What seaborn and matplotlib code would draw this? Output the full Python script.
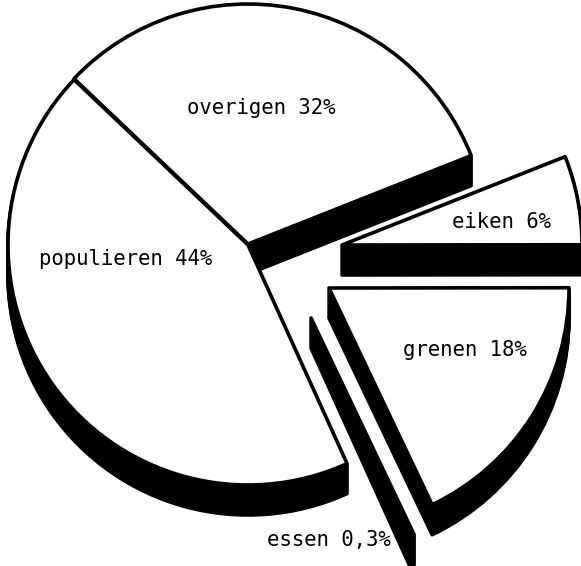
#!/usr/bin/env python3
import seaborn as sns
import matplotlib
matplotlib.use("Agg")
import matplotlib.pyplot as plt

sns.set_style("white")

# counter-clockwise from the right end of "overigen"
names = ["overigen", "populieren", "essen", "grenen", "eiken"]
shares = [32, 44, 0.3, 18, 6]
labels = ["overigen 32%", "populieren 44%", "essen 0,3%", "grenen 18%", "eiken 6%"]

W, H = 581, 566
START = 21.6
RADIUS = 240
DEPTH = 30

# apex of each slice in image pixels, y measured from the top
apex = {"overigen": (248, 244), "populieren": (248, 245), "essen": (311, 318),
        "grenen": (329, 288), "eiken": (342, 245)}
label_pos = {"overigen": (261, 108), "populieren": (126, 259), "essen": (329, 540),
             "grenen": (465, 350), "eiken": (502, 222)}


def slice_at(ax, name, frac, angle, dy, face):
    x, y = apex[name]
    ax.pie([frac], startangle=angle, center=(x, H - y - dy), radius=RADIUS, normalize=False,
           colors=[face], wedgeprops=dict(edgecolor="black", linewidth=2.6, joinstyle="round"))


fig = plt.figure(figsize=(W / 100, H / 100), dpi=100)
ax = fig.add_axes([0, 0, 1, 1])

total = sum(shares)
angle = START
angles = {}
fracs = {}
for name, share in zip(names, shares):
    angles[name] = angle
    fracs[name] = share / total
    angle += share / total * 360

# black sides first, extruded downwards, then the white tops
for name in names:
    for dy in range(DEPTH, 0, -2):
        slice_at(ax, name, fracs[name], angles[name], dy, "black")
for name in names:
    slice_at(ax, name, fracs[name], angles[name], 0, "black" if name == "essen" else "white")

for name, label in zip(names, labels):
    x, y = label_pos[name]
    ax.text(x, H - y, label, ha="center", va="center", fontsize=14.9,
            family="DejaVu Sans Mono", color="black")

ax.set_xlim(0, W)
ax.set_ylim(0, H)
ax.axis("off")
fig.savefig("out.png", dpi=100, facecolor="white")
